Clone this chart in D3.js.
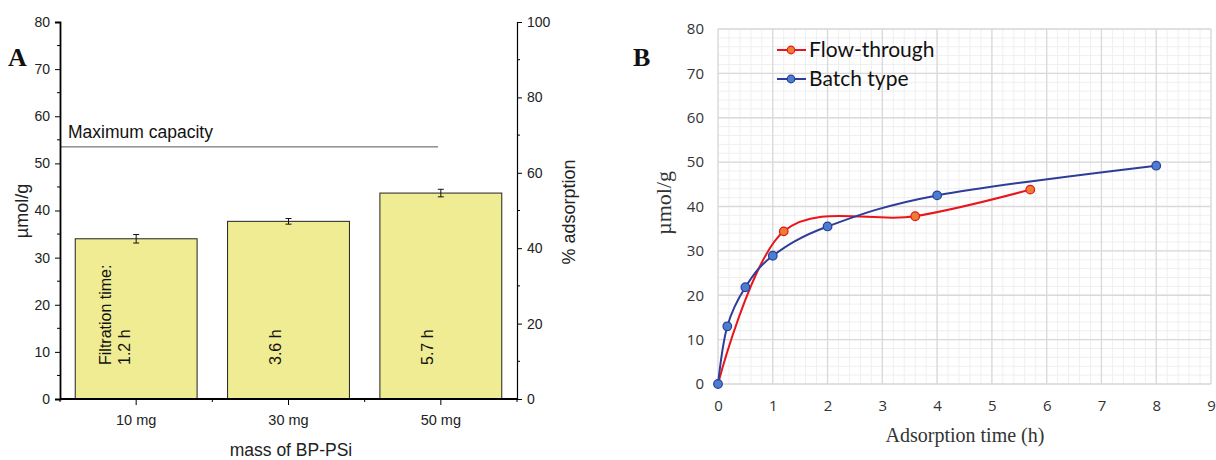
<!DOCTYPE html>
<html><head><meta charset="utf-8">
<script src="https://cdn.jsdelivr.net/npm/d3@7"></script>
<style>body{margin:0;background:#fff}svg{display:block}</style>
</head><body>
<svg id="c" width="1216" height="460"></svg>
<script>
// ---- Panel A data ----
const massCats = ["10 mg", "30 mg", "50 mg"];
const capacity = [34.0, 37.7, 43.7];
const capacityErr = [0.9, 0.6, 0.8];
const filtrationLabels = [["Filtration time:", "1.2 h"], ["3.6 h"], ["5.7 h"]];
const maxCapacity = 53.5;
const leftTicks = [0, 10, 20, 30, 40, 50, 60, 70, 80];
const rightTicks = [0, 20, 40, 60, 80, 100];

// ---- Panel B data ----
const flowTime = [0, 1.2, 3.6, 5.7];
const flowVal = [0, 34.4, 37.8, 43.8];
const batchTime = [0, 0.17, 0.5, 1, 2, 4, 8];
const batchVal = [0, 13.0, 21.8, 28.9, 35.5, 42.5, 49.2];
const batchErr = [0, 0.8, 0.4, 0.6, 0.7, 0.3, 0.5];
const flowErr = [0, 0.5, 0.3, 0.6];
const bXTicks = [0, 1, 2, 3, 4, 5, 6, 7, 8, 9];
const bYTicks = [0, 10, 20, 30, 40, 50, 60, 70, 80];

const svg = d3.select("#c");

// ================= Panel A =================
const A = {l: 60, r: 517, t: 22, b: 399};
const xA = d3.scaleBand().domain(massCats).range([A.l, A.r]).paddingInner(0.2).paddingOuter(0.1);
const yA = d3.scaleLinear().domain([0, 80]).range([A.b, A.t]);
const yA2 = d3.scaleLinear().domain([0, 100]).range([A.b, A.t]);
const gA = svg.append("g").attr("font-family", "Liberation Sans, Arial, sans-serif");

// bars
gA.selectAll("rect.bar").data(massCats).join("rect")
  .attr("x", d => xA(d)).attr("width", xA.bandwidth())
  .attr("y", (d, i) => yA(capacity[i])).attr("height", (d, i) => A.b - yA(capacity[i]))
  .attr("fill", "#efec94").attr("stroke", "#222").attr("stroke-width", 1);

// error bars
massCats.forEach((c, i) => {
  const cx = xA(c) + xA.bandwidth() / 2;
  const y1 = yA(capacity[i] + capacityErr[i]), y0 = yA(capacity[i] - capacityErr[i]);
  gA.append("line").attr("x1", cx).attr("x2", cx).attr("y1", y1).attr("y2", y0).attr("stroke", "#111");
  gA.append("line").attr("x1", cx - 3).attr("x2", cx + 3).attr("y1", y1).attr("y2", y1).attr("stroke", "#111");
  gA.append("line").attr("x1", cx - 3).attr("x2", cx + 3).attr("y1", y0).attr("y2", y0).attr("stroke", "#111");
});

// filtration labels rotated
massCats.forEach((c, i) => {
  const lines = filtrationLabels[i];
  const cx = xA(c) + xA.bandwidth() / 2 - 27;
  lines.forEach((t, j) => {
    const xx = i === 0 ? cx - 4 + j * 19 : cx + 13;
    gA.append("text").attr("transform", `translate(${xx + 6},365) rotate(-90)`)
      .attr("font-size", 16).attr("fill", "#111").text(t);
  });
});

// max capacity line
gA.append("line").attr("x1", A.l + 1).attr("x2", 438).attr("y1", yA(maxCapacity)).attr("y2", yA(maxCapacity))
  .attr("stroke", "#555").attr("stroke-width", 1);
gA.append("text").attr("x", 68).attr("y", yA(maxCapacity) - 9).attr("font-size", 17.5).attr("fill", "#111").text("Maximum capacity");

// left axis
const axL = d3.axisLeft(yA).tickValues(leftTicks).tickSize(5).tickPadding(5);
const gL = gA.append("g").attr("transform", `translate(${A.l},0)`).call(axL);
gL.select(".domain").attr("stroke-width", 1.8);
gL.selectAll("text").attr("font-size", 14).attr("fill", "#222");
gL.selectAll(".minor").data(d3.range(5, 80, 10)).join("line").attr("class", "minor")
  .attr("x1", -3).attr("x2", 0).attr("y1", d => yA(d)).attr("y2", d => yA(d)).attr("stroke", "#000");

// right axis
const axR = d3.axisRight(yA2).tickValues(rightTicks).tickSize(5).tickPadding(5);
const gR = gA.append("g").attr("transform", `translate(${A.r},0)`).call(axR);
gR.select(".domain").attr("stroke-width", 1.2);
gR.selectAll("text").attr("font-size", 14).attr("fill", "#222");
gR.selectAll(".minor").data(d3.range(10, 100, 20)).join("line").attr("class", "minor")
  .attr("x1", 0).attr("x2", 3).attr("y1", d => yA2(d)).attr("y2", d => yA2(d)).attr("stroke", "#000");

// bottom axis
const gB = gA.append("g").attr("transform", `translate(0,${A.b})`);
gB.append("line").attr("x1", A.l).attr("x2", A.r).attr("stroke", "#000").attr("stroke-width", 1.8);
gB.selectAll(".maj").data(massCats).join("line").attr("class", "maj")
  .attr("x1", d => xA(d) + xA.bandwidth() / 2).attr("x2", d => xA(d) + xA.bandwidth() / 2)
  .attr("y1", 0).attr("y2", 6).attr("stroke", "#000");
const step = xA.step();
gB.selectAll(".mn").data([0, 1, 2, 3]).join("line").attr("class", "mn")
  .attr("x1", d => xA(massCats[0]) + xA.bandwidth() / 2 - step / 2 + d * step)
  .attr("x2", d => xA(massCats[0]) + xA.bandwidth() / 2 - step / 2 + d * step)
  .attr("y1", 0).attr("y2", 3).attr("stroke", "#000");
gB.selectAll("text").data(massCats).join("text")
  .attr("x", d => xA(d) + xA.bandwidth() / 2).attr("y", 26).attr("text-anchor", "middle")
  .attr("font-size", 14.5).attr("fill", "#222").text(d => d);

// axis titles
gA.append("text").attr("x", 291).attr("y", 456).attr("text-anchor", "middle")
  .attr("font-size", 17.5).attr("fill", "#222").text("mass of BP-PSi");
gA.append("text").attr("transform", `translate(28,211) rotate(-90)`).attr("text-anchor", "middle")
  .attr("font-size", 18).attr("fill", "#222").text("µmol/g");
gA.append("text").attr("transform", `translate(563,212) rotate(90)`).attr("text-anchor", "middle")
  .attr("font-size", 18).attr("fill", "#222").attr("transform", `translate(575,212) rotate(-90)`).text("% adsorption");
gA.append("text").attr("x", 8).attr("y", 66).attr("font-family", "Liberation Serif, Times New Roman, serif")
  .attr("font-weight", "bold").attr("font-size", 26).attr("fill", "#111").text("A");

// ================= Panel B =================
const B = {l: 718, r: 1211, t: 29, b: 384};
const xB = d3.scaleLinear().domain([0, 9]).range([B.l, B.r]);
const yB = d3.scaleLinear().domain([0, 80]).range([B.b, B.t]);
const gBB = svg.append("g");

// minor grid
gBB.selectAll(".gxm").data(d3.range(0, 9.01, 0.2)).join("line")
  .attr("x1", d => xB(d)).attr("x2", d => xB(d)).attr("y1", B.t).attr("y2", B.b)
  .attr("stroke", "#efefef").attr("stroke-width", 1);
gBB.selectAll(".gym").data(d3.range(0, 80.1, 2)).join("line")
  .attr("x1", B.l).attr("x2", B.r).attr("y1", d => yB(d)).attr("y2", d => yB(d))
  .attr("stroke", "#efefef").attr("stroke-width", 1);
// major grid
gBB.selectAll(".gx").data(bXTicks).join("line")
  .attr("x1", d => xB(d)).attr("x2", d => xB(d)).attr("y1", B.t).attr("y2", B.b)
  .attr("stroke", "#d9d9d9").attr("stroke-width", 1.3);
gBB.selectAll(".gy").data(bYTicks).join("line")
  .attr("x1", B.l).attr("x2", B.r).attr("y1", d => yB(d)).attr("y2", d => yB(d))
  .attr("stroke", "#d9d9d9").attr("stroke-width", 1.3);

// axes labels
const axBx = d3.axisBottom(xB).tickValues(bXTicks).tickSize(0).tickPadding(16);
const gbx = gBB.append("g").attr("transform", `translate(0,${B.b})`).call(axBx);
gbx.select(".domain").remove();
gbx.selectAll("text").attr("font-size", 15).attr("font-family", "Open Sans, sans-serif").attr("fill", "#333");
const axBy = d3.axisLeft(yB).tickValues(bYTicks).tickSize(0).tickPadding(14);
const gby = gBB.append("g").attr("transform", `translate(${B.l},0)`).call(axBy);
gby.select(".domain").remove();
gby.selectAll("text").attr("font-size", 15).attr("font-family", "Open Sans, sans-serif").attr("fill", "#333");

// lines
const curve = d3.curveCatmullRom.alpha(0);
const line = d3.line().x(d => xB(d[0])).y(d => yB(d[1])).curve(curve);
const flowPts = flowTime.map((t, i) => [t, flowVal[i], flowErr[i]]);
const batchPts = batchTime.map((t, i) => [t, batchVal[i], batchErr[i]]);
gBB.append("path").attr("d", line(flowPts)).attr("fill", "none").attr("stroke", "#e8161c").attr("stroke-width", 2);
gBB.append("path").attr("d", line(batchPts)).attr("fill", "none").attr("stroke", "#2e3c9a").attr("stroke-width", 2);

function errs(pts, col) {
  pts.forEach(p => {
    if (!p[2]) return;
    const cx = xB(p[0]);
    gBB.append("line").attr("x1", cx).attr("x2", cx).attr("y1", yB(p[1] + p[2])).attr("y2", yB(p[1] - p[2])).attr("stroke", col);
    [p[1] + p[2], p[1] - p[2]].forEach(v => gBB.append("line").attr("x1", cx - 3).attr("x2", cx + 3)
      .attr("y1", yB(v)).attr("y2", yB(v)).attr("stroke", col));
  });
}
errs(flowPts, "#555");
errs(batchPts, "#555");

gBB.selectAll(".fm").data(flowPts.slice(1)).join("circle")
  .attr("cx", d => xB(d[0])).attr("cy", d => yB(d[1])).attr("r", 4.3)
  .attr("fill", "#ed7d31").attr("stroke", "#e0161c").attr("stroke-width", 1.2);
gBB.selectAll(".bm").data(batchPts).join("circle")
  .attr("cx", d => xB(d[0])).attr("cy", d => yB(d[1])).attr("r", 4.3)
  .attr("fill", "#4a7fd0").attr("stroke", "#2e3c9a").attr("stroke-width", 1.2);

// legend
const legend = [["Flow-through", "#e8161c", "#ed7d31"], ["Batch type", "#2e3c9a", "#4a7fd0"]];
legend.forEach((L, i) => {
  const y = 50 + i * 29;
  gBB.append("line").attr("x1", 777).attr("x2", 806).attr("y1", y).attr("y2", y).attr("stroke", L[1]).attr("stroke-width", 2);
  gBB.append("circle").attr("cx", 791).attr("cy", y).attr("r", 3.8).attr("fill", L[2]).attr("stroke", L[1]).attr("stroke-width", 1.2);
  gBB.append("text").attr("x", 809).attr("y", y + 7).attr("font-family", "Lato, Open Sans, sans-serif")
    .attr("font-size", 21).attr("fill", "#111").text(L[0]);
});

// titles
gBB.append("text").attr("x", 965).attr("y", 442).attr("text-anchor", "middle")
  .attr("font-family", "Liberation Serif, Times New Roman, serif").attr("font-size", 20).attr("fill", "#333")
  .text("Adsorption time (h)");
gBB.append("text").attr("transform", `translate(671,203) rotate(-90)`).attr("text-anchor", "middle")
  .attr("font-family", "Liberation Serif, Times New Roman, serif").attr("font-size", 22).attr("fill", "#333")
  .text("µmol/g");
gBB.append("text").attr("x", 633).attr("y", 66).attr("font-family", "Liberation Serif, Times New Roman, serif")
  .attr("font-weight", "bold").attr("font-size", 26).attr("fill", "#111").text("B");
</script>
</body></html>
